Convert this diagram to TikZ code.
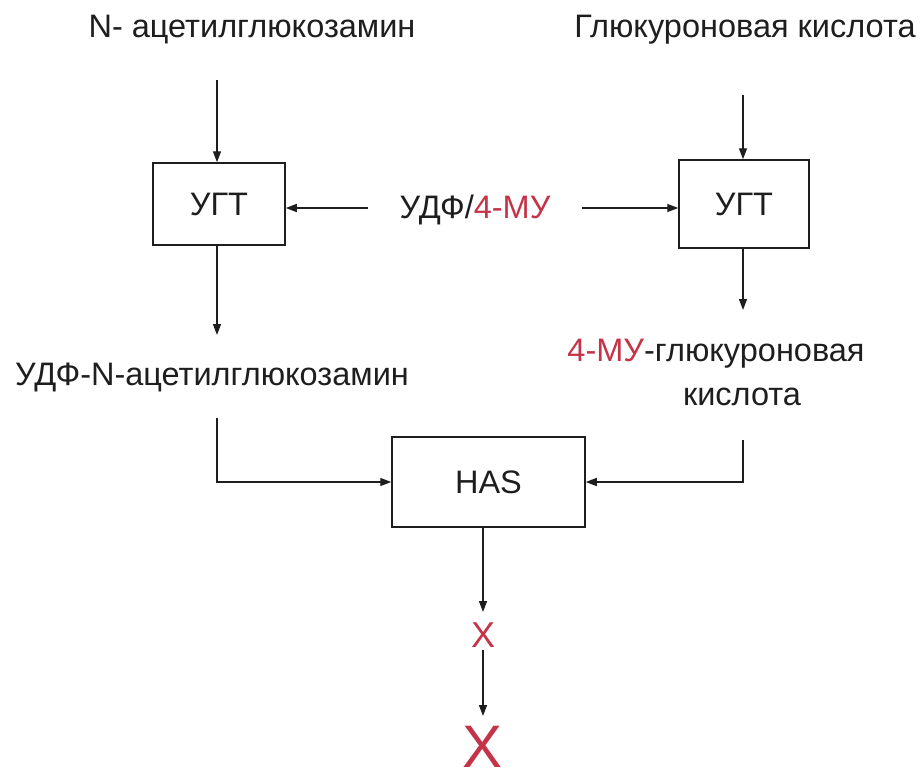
\documentclass[tikz,border=0pt]{standalone}
\usepackage{fontspec}
\setmainfont{Liberation Sans}
\usetikzlibrary{arrows.meta}
\definecolor{mured}{RGB}{196,52,72}
\definecolor{ink}{RGB}{30,30,30}
\tikzset{
  lbl/.style={inner sep=0pt, text=ink, font=\fontsize{32.5}{36}\selectfont},
  box/.style={draw=ink, line width=1.5pt, inner sep=0pt, text=ink, font=\fontsize{32.5}{36}\selectfont},
  arr/.style={draw=ink, line width=1.4pt, -{Triangle[length=11pt,width=8pt]}}
}
\begin{document}
\begin{tikzpicture}[x=1pt,y=1pt]
\useasboundingbox (0,0) rectangle (921,-784);
% text nodes
\node[lbl] (nag) at (252,-30) {N- ацетилглюкозамин};
\node[lbl] (glu) at (745,-30) {Глюкуроновая кислота};
\node[lbl] (udf) at (475,-210) {УДФ/\textcolor{mured}{4-МУ}};
\node[lbl] (udfnag) at (212,-377) {УДФ-N-ацетилглюкозамин};
\node[lbl] (mu1) at (716,-354) {\textcolor{mured}{4-МУ}-глюкуроновая};
\node[lbl] (mu2) at (742,-397) {кислота};
% boxes
\node[box, minimum width=132pt, minimum height=82pt] (ugt1) at (219,-204) {УГТ};
\node[box, minimum width=130pt, minimum height=88pt] (ugt2) at (744,-204) {УГТ};
\node[box, minimum width=193pt, minimum height=90pt] (has) at (488.5,-482) {HAS};
% red crosses
\node[inner sep=0pt, text=mured, font=\fontsize{36}{38}\selectfont] (x1) at (483,-635) {X};
\node[inner sep=0pt, text=mured, font=\fontsize{60}{64}\selectfont] (x2) at (483,-747) {X};
% free ends
\coordinate (a1) at (217,-80);
\coordinate (a2) at (743,-95);
\coordinate (a3) at (368,-208);
\coordinate (a4) at (582,-208);
\coordinate (b1) at (217,-335);
\coordinate (b2) at (743,-310);
\coordinate (c1) at (217,-418);
\coordinate (c2) at (743,-440);
\coordinate (d1) at (483,-612);
\coordinate (d2) at (483,-650);
\coordinate (d3) at (483,-716);
% connectors
\draw[arr] (a1) -- (a1 |- ugt1.north);
\draw[arr] (a2) -- (a2 |- ugt2.north);
\draw[arr] (a3) -- (ugt1.east |- a3);
\draw[arr] (a4) -- (ugt2.west |- a4);
\draw[arr] (b1 |- ugt1.south) -- (b1);
\draw[arr] (b2 |- ugt2.south) -- (b2);
\draw[arr] (c1) |- (has.west);
\draw[arr] (c2) |- (has.east);
\draw[arr] (d1 |- has.south) -- (d1);
\draw[arr] (d2) -- (d3);
\end{tikzpicture}
\end{document}
